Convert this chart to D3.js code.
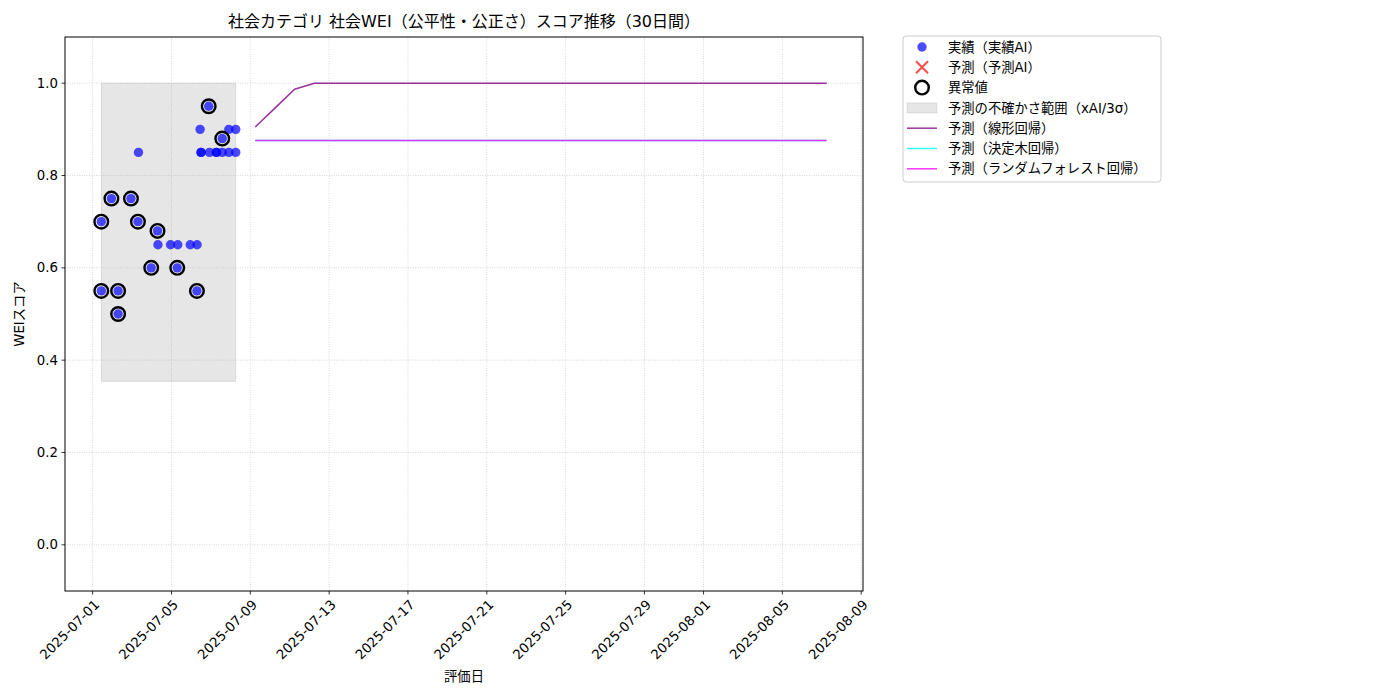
<!DOCTYPE html>
<html><head><meta charset="utf-8">
<script src="https://cdn.jsdelivr.net/npm/d3@7"></script>
<style>
html,body{margin:0;padding:0;background:#fff;}
svg text{font-family:"DejaVu Sans","Noto Sans CJK JP",sans-serif;fill:#000;}
</style></head>
<body><svg id="chart" width="1400" height="700"></svg>
<script>
// ---- data ----
const titleText = "社会カテゴリ 社会WEI（公平性・公正さ）スコア推移（30日間）";
const xLabel = "評価日";
const yLabel = "WEIスコア";

const actualDates = [
  "2025-07-01T10:30","2025-07-01T10:30","2025-07-01T22:50","2025-07-02T07:00","2025-07-02T07:00",
  "2025-07-02T22:40","2025-07-03T07:10","2025-07-03T07:50","2025-07-03T23:20","2025-07-04T07:00",
  "2025-07-04T07:30","2025-07-04T22:50","2025-07-05T07:00","2025-07-05T07:40","2025-07-05T22:50",
  "2025-07-06T07:10","2025-07-06T07:00","2025-07-06T10:50","2025-07-06T12:00","2025-07-06T12:00",
  "2025-07-06T21:20","2025-07-06T22:20","2025-07-07T06:40","2025-07-07T06:40","2025-07-07T13:50",
  "2025-07-07T13:50","2025-07-07T21:50","2025-07-07T21:50","2025-07-08T06:15","2025-07-08T06:15"
];
const actualValues = [
  0.70,0.55,0.75,0.55,0.50,
  0.75,0.70,0.85,0.60,0.68,
  0.65,0.65,0.60,0.65,0.65,
  0.65,0.55,0.90,0.85,0.85,
  0.95,0.85,0.85,0.85,0.88,
  0.85,0.90,0.85,0.90,0.85
];
const anomalyDates = [
  "2025-07-01T10:30","2025-07-01T10:30","2025-07-01T22:50","2025-07-02T07:00","2025-07-02T07:00",
  "2025-07-02T22:40","2025-07-03T07:10","2025-07-03T23:20","2025-07-04T07:00","2025-07-05T07:00",
  "2025-07-06T07:00","2025-07-06T21:20","2025-07-07T13:50"
];
const anomalyValues = [0.70,0.55,0.75,0.55,0.50,0.75,0.70,0.60,0.68,0.60,0.55,0.95,0.88];

const bandDates = ["2025-07-01T10:30","2025-07-08T06:15"];
const bandLower = [0.354,0.354];
const bandUpper = [1.0,1.0];

const forecastDates = [
  "2025-07-09T06:00","2025-07-10T06:00","2025-07-11T06:00","2025-07-12T06:00","2025-07-13T06:00",
  "2025-07-14T06:00","2025-07-15T06:00","2025-07-16T06:00","2025-07-17T06:00","2025-07-18T06:00",
  "2025-07-19T06:00","2025-07-20T06:00","2025-07-21T06:00","2025-07-22T06:00","2025-07-23T06:00",
  "2025-07-24T06:00","2025-07-25T06:00","2025-07-26T06:00","2025-07-27T06:00","2025-07-28T06:00",
  "2025-07-29T06:00","2025-07-30T06:00","2025-07-31T06:00","2025-08-01T06:00","2025-08-02T06:00",
  "2025-08-03T06:00","2025-08-04T06:00","2025-08-05T06:00","2025-08-06T06:00","2025-08-07T06:00"
];
const linearValues = [0.905,0.946,0.987,1.0,1.0,1.0,1.0,1.0,1.0,1.0,1.0,1.0,1.0,1.0,1.0,1.0,1.0,1.0,1.0,1.0,1.0,1.0,1.0,1.0,1.0,1.0,1.0,1.0,1.0,1.0];
const treeValues = [0.876,0.876,0.876,0.876,0.876,0.876,0.876,0.876,0.876,0.876,0.876,0.876,0.876,0.876,0.876,0.876,0.876,0.876,0.876,0.876,0.876,0.876,0.876,0.876,0.876,0.876,0.876,0.876,0.876,0.876];
const rfValues = [0.876,0.876,0.876,0.876,0.876,0.876,0.876,0.876,0.876,0.876,0.876,0.876,0.876,0.876,0.876,0.876,0.876,0.876,0.876,0.876,0.876,0.876,0.876,0.876,0.876,0.876,0.876,0.876,0.876,0.876];

const xTickDates = ["2025-07-01","2025-07-05","2025-07-09","2025-07-13","2025-07-17","2025-07-21","2025-07-25","2025-07-29","2025-08-01","2025-08-05","2025-08-09"];
const yTickValues = [0.0,0.2,0.4,0.6,0.8,1.0];
const yDomain = [-0.1,1.1];

const legendLabels = ["実績（実績AI）","予測（予測AI）","異常値","予測の不確かさ範囲（xAI/3σ）","予測（線形回帰）","予測（決定木回帰）","予測（ランダムフォレスト回帰）"];

// ---- layout ----
const parse = d3.isoParse;
const m = {left:65, right:863, top:37, bottom:591};
const svg = d3.select("#chart");

const allDates = actualDates.concat(forecastDates).map(parse);
const ext = d3.extent(allDates);
const span = ext[1]-ext[0];
const x = d3.scaleTime().domain([new Date(+ext[0]-span*0.05), new Date(+ext[1]+span*0.05)]).range([m.left,m.right]);
const y = d3.scaleLinear().domain(yDomain).range([m.bottom,m.top]);

const plot = svg.append("g");
plot.append("defs").append("clipPath").attr("id","clip").append("rect")
  .attr("x",m.left).attr("y",m.top).attr("width",m.right-m.left).attr("height",m.bottom-m.top);

// band
const bandData = bandDates.map((d,i)=>({d:parse(d),lo:bandLower[i],hi:bandUpper[i]}));
plot.append("path").datum(bandData)
  .attr("d", d3.area().x(d=>x(d.d)).y0(d=>y(d.lo)).y1(d=>y(d.hi)))
  .attr("fill","#808080").attr("fill-opacity",0.2)
  .attr("stroke","#808080").attr("stroke-opacity",0.2).attr("stroke-width",1);

// grid
const grid = plot.append("g").attr("stroke","#b0b0b0").attr("stroke-width",0.8).attr("stroke-dasharray","0.8,1.6").attr("stroke-opacity",0.8);
xTickDates.forEach(t=>{
  grid.append("line").attr("x1",x(parse(t))).attr("x2",x(parse(t))).attr("y1",m.top).attr("y2",m.bottom);
});
yTickValues.forEach(v=>{
  grid.append("line").attr("x1",m.left).attr("x2",m.right).attr("y1",y(v)).attr("y2",y(v));
});

// forecast lines
const lineGen = d3.line().x(d=>x(d.d)).y(d=>y(d.v));
function series(vals){ return forecastDates.map((d,i)=>({d:parse(d),v:vals[i]})); }
const lines = plot.append("g").attr("clip-path","url(#clip)").attr("fill","none").attr("stroke-width",1.5);
lines.append("path").datum(series(linearValues)).attr("d",lineGen).attr("stroke","purple").attr("stroke-opacity",0.8);
lines.append("path").datum(series(treeValues)).attr("d",lineGen).attr("stroke","cyan").attr("stroke-opacity",0.8);
lines.append("path").datum(series(rfValues)).attr("d",lineGen).attr("stroke","magenta").attr("stroke-opacity",0.8);

// actual points
plot.append("g").selectAll("circle").data(actualDates.map((d,i)=>({d:parse(d),v:actualValues[i]})))
  .join("circle").attr("cx",d=>x(d.d)).attr("cy",d=>y(d.v)).attr("r",4.7)
  .attr("fill","blue").attr("fill-opacity",0.7);

// anomalies
plot.append("g").selectAll("circle").data(anomalyDates.map((d,i)=>({d:parse(d),v:anomalyValues[i]})))
  .join("circle").attr("cx",d=>x(d.d)).attr("cy",d=>y(d.v)).attr("r",6.8)
  .attr("fill","none").attr("stroke","#000").attr("stroke-width",2.4);

// frame
svg.append("rect").attr("x",m.left).attr("y",m.top).attr("width",m.right-m.left).attr("height",m.bottom-m.top)
  .attr("fill","none").attr("stroke","#000").attr("stroke-width",1);

// x axis
const xg = svg.append("g");
xTickDates.forEach(t=>{
  const px = x(parse(t));
  xg.append("line").attr("x1",px).attr("x2",px).attr("y1",m.bottom).attr("y2",m.bottom+3.5).attr("stroke","#000").attr("stroke-width",0.8);
  xg.append("text").attr("transform",`translate(${px+1},${m.bottom+8}) rotate(-45)`)
    .attr("text-anchor","end").attr("dy","0.7em").attr("font-size","13.3px").text(t);
});
// y axis
const yg = svg.append("g");
yTickValues.forEach(v=>{
  const py = y(v);
  yg.append("line").attr("x1",m.left-3.5).attr("x2",m.left).attr("y1",py).attr("y2",py).attr("stroke","#000").attr("stroke-width",0.8);
  yg.append("text").attr("x",m.left-7).attr("y",py).attr("dy","0.35em").attr("text-anchor","end").attr("font-size","13.3px").text(v.toFixed(1));
});

// labels
svg.append("text").attr("x",(m.left+m.right)/2).attr("y",27).attr("text-anchor","middle").attr("font-size","16px").text(titleText);
svg.append("text").attr("x",(m.left+m.right)/2).attr("y",681).attr("text-anchor","middle").attr("font-size","13.3px").text(xLabel);
svg.append("text").attr("transform",`translate(24,${(m.top+m.bottom)/2}) rotate(-90)`).attr("text-anchor","middle").attr("font-size","13.3px").text(yLabel);

// legend
const lg = svg.append("g").attr("transform","translate(903,36)");
lg.append("rect").attr("x",0).attr("y",0).attr("width",258).attr("height",146).attr("rx",3)
  .attr("fill","#fff").attr("fill-opacity",0.8).attr("stroke","#ccc").attr("stroke-width",1);
const rowY = i => 11 + i*20.3;
const hx = 19;
lg.append("circle").attr("cx",hx).attr("cy",rowY(0)).attr("r",4.7).attr("fill","blue").attr("fill-opacity",0.7);
lg.append("path").attr("d",`M${hx-6},${rowY(1)-6}L${hx+6},${rowY(1)+6}M${hx-6},${rowY(1)+6}L${hx+6},${rowY(1)-6}`)
  .attr("stroke","red").attr("stroke-opacity",0.7).attr("stroke-width",2);
lg.append("circle").attr("cx",hx).attr("cy",rowY(2)).attr("r",6.8).attr("fill","none").attr("stroke","#000").attr("stroke-width",2.4);
lg.append("rect").attr("x",4).attr("y",rowY(3)-5).attr("width",30).attr("height",10)
  .attr("fill","#808080").attr("fill-opacity",0.2).attr("stroke","#808080").attr("stroke-opacity",0.2);
[["purple",4],["cyan",5],["magenta",6]].forEach(([c,i])=>{
  lg.append("line").attr("x1",4).attr("x2",34).attr("y1",rowY(i)).attr("y2",rowY(i)).attr("stroke",c).attr("stroke-opacity",0.8).attr("stroke-width",1.5);
});
legendLabels.forEach((t,i)=>{
  lg.append("text").attr("x",45).attr("y",rowY(i)).attr("dy","0.35em").attr("font-size","13.3px").text(t);
});
</script>
</body></html>
